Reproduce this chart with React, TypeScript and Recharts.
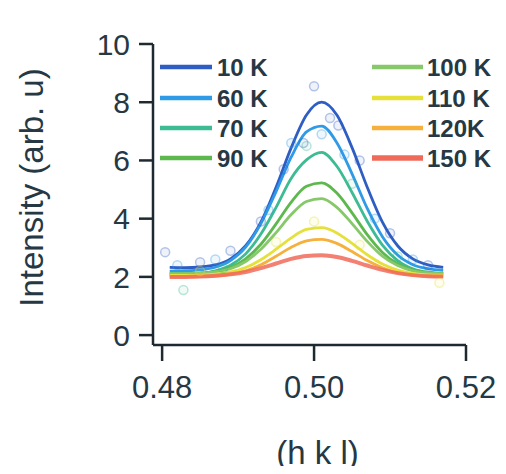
import React from 'react';
import { ComposedChart, Line, Scatter, XAxis, YAxis, Legend } from 'recharts';

// momentum transfer (h k l) sampled along the fitted curves
const hkl = [0.481, 0.483, 0.485, 0.487, 0.489, 0.491, 0.493, 0.495, 0.497, 0.499, 0.501, 0.503, 0.505, 0.507, 0.509, 0.511, 0.513, 0.515, 0.517];

// fitted intensity curves (arb. u)
const fit10K = [2.33, 2.32, 2.34, 2.41, 2.62, 3.07, 3.88, 5.08, 6.44, 7.56, 8.00, 7.56, 6.44, 5.08, 3.88, 3.07, 2.62, 2.41, 2.33];
const fit60K = [2.20, 2.21, 2.24, 2.33, 2.56, 3.02, 3.83, 4.93, 6.12, 6.98, 7.18, 6.61, 5.54, 4.35, 3.38, 2.75, 2.42, 2.28, 2.22];
const fit70K = [2.10, 2.11, 2.13, 2.21, 2.40, 2.79, 3.47, 4.39, 5.39, 6.02, 6.28, 5.80, 4.90, 3.91, 3.09, 2.56, 2.28, 2.16, 2.12];
const fit90K = [2.10, 2.11, 2.13, 2.18, 2.32, 2.62, 3.12, 3.82, 4.57, 5.11, 5.23, 4.88, 4.20, 3.45, 2.84, 2.45, 2.24, 2.15, 2.11];
const fit100K = [2.10, 2.11, 2.12, 2.17, 2.28, 2.53, 2.95, 3.52, 4.14, 4.59, 4.69, 4.39, 3.83, 3.22, 2.71, 2.39, 2.21, 2.14, 2.11];
const fit110K = [2.05, 2.05, 2.06, 2.09, 2.17, 2.32, 2.59, 2.95, 3.34, 3.63, 3.69, 3.51, 3.15, 2.76, 2.44, 2.23, 2.12, 2.07, 2.06];
const fit120K = [2.00, 2.00, 2.01, 2.03, 2.09, 2.21, 2.42, 2.71, 3.02, 3.24, 3.29, 3.15, 2.87, 2.56, 2.31, 2.14, 2.06, 2.02, 2.01];
const fit150K = [2.00, 2.00, 2.01, 2.04, 2.09, 2.17, 2.30, 2.46, 2.62, 2.72, 2.74, 2.68, 2.55, 2.39, 2.24, 2.13, 2.06, 2.02, 2.01];

// measured points (faint open circles)
const pts10K: [number, number][] = [[0.4804, 2.85], [0.4850, 2.5], [0.4890, 2.9], [0.4930, 3.9], [0.4960, 5.7], [0.4986, 6.6], [0.5000, 8.55], [0.5021, 7.46], [0.5032, 7.2], [0.5060, 6.0], [0.5100, 3.5], [0.5150, 2.4]];
const pts60K: [number, number][] = [[0.4820, 2.4], [0.4870, 2.6], [0.4940, 4.3], [0.4970, 6.6], [0.5010, 6.9], [0.5040, 6.2], [0.5080, 4.0], [0.5130, 2.6]];
const pts70K: [number, number][] = [[0.4828, 1.55], [0.4880, 2.3], [0.4990, 6.5], [0.5050, 5.2], [0.5110, 2.7]];
const pts110K: [number, number][] = [[0.4850, 2.2], [0.4950, 3.2], [0.5000, 3.9], [0.5060, 3.1], [0.5165, 1.8]];

const temps = ['10 K', '60 K', '70 K', '90 K', '100 K', '110 K', '120K', '150 K'];
const colors = ['#2e5ec4', '#2f9ae6', '#3dbb93', '#5db84d', '#86c86a', '#e6e03a', '#f6b03c', '#f06a5a'];
const fits = [fit10K, fit60K, fit70K, fit90K, fit100K, fit110K, fit120K, fit150K];
const pointSets: { idx: number; pts: [number, number][] }[] = [
  { idx: 0, pts: pts10K },
  { idx: 1, pts: pts60K },
  { idx: 2, pts: pts70K },
  { idx: 5, pts: pts110K },
];

const yTicks = [0, 2, 4, 6, 8, 10];
const xTicks = [0.48, 0.50, 0.52];

const textColor = '#263843';
const axisColor = '#1e2a30';
const font = 'Liberation Sans, Arial, sans-serif';

const LegendBox = () => {
  const rowsY = [59, 90, 120, 150];
  return (
    <svg width={490} height={180} style={{ overflow: 'visible' }}>
      {temps.map((t, i) => {
        const col = i < 4 ? 0 : 1;
        const row = i % 4;
        const x0 = col === 0 ? 152 : 364;
        const x1 = col === 0 ? 204 : 415;
        const tx = col === 0 ? 209 : 419;
        const y = rowsY[row];
        return (
          <g key={t}>
            <line x1={x0} x2={x1} y1={y} y2={y} stroke={colors[i]} strokeWidth={i === 7 ? 5.5 : 4.5} />
            <text x={tx} y={y} dy="0.36em" fontSize={24} fontWeight="bold" fill={textColor} fontFamily={font}>{t}</text>
          </g>
        );
      })}
    </svg>
  );
};

export default function App() {
  const lineData = fits.map((f) => hkl.map((x, k) => ({ x, y: f[k] })));
  return (
    <div style={{ width: 490, height: 458, background: '#fff', overflow: 'visible' }}>
      <ComposedChart width={490} height={464} margin={{ top: 36, right: 32, bottom: 0, left: 0 }}>
        <XAxis
          type="number"
          dataKey="x"
          domain={[0.4788, 0.52]}
          ticks={xTicks}
          allowDataOverflow
          height={127}
          tickSize={16}
          tickMargin={15}
          tickFormatter={(v: number) => v.toFixed(2)}
          tick={{ fontSize: 31, fill: textColor, fontFamily: font }}
          axisLine={{ stroke: axisColor, strokeWidth: 2.5 }}
          tickLine={{ stroke: axisColor, strokeWidth: 2.5 }}
          label={{
            content: (p: any) => {
              const vb = p.viewBox || {};
              return (
                <text x={vb.x + vb.width / 2 + 8} y={vb.y + 119} textAnchor="middle" fontSize={33} fill={textColor} fontFamily={font}>(h k l)</text>
              );
            },
          }}
        />
        <YAxis
          type="number"
          dataKey="y"
          domain={[-0.34, 10]}
          ticks={yTicks}
          allowDataOverflow
          width={145}
          tickSize={14}
          tickMargin={9}
          tick={{ fontSize: 30, fill: textColor, fontFamily: font }}
          axisLine={{ stroke: axisColor, strokeWidth: 2.5 }}
          tickLine={{ stroke: axisColor, strokeWidth: 2.5 }}
          label={{
            content: (p: any) => {
              const vb = p.viewBox || {};
              const cx = 23;
              const cy = vb.y + vb.height / 2 - 7;
              return (
                <text x={cx} y={cy} textAnchor="middle" dominantBaseline="central" transform={`rotate(-90 ${cx} ${cy})`} fontSize={33} fill={textColor} fontFamily={font}>Intensity (arb. u)</text>
              );
            },
          }}
        />
        {pointSets.map((s) => (
          <Scatter
            key={'s' + s.idx}
            data={s.pts.map(([x, y]) => ({ x, y }))}
            dataKey="y"
            isAnimationActive={false}
            legendType="none"
            shape={(p: any) => (
              <circle cx={p.cx} cy={p.cy} r={4.5} fill={colors[s.idx]} fillOpacity={0.08} stroke={colors[s.idx]} strokeOpacity={0.35} strokeWidth={1.5} />
            )}
          />
        ))}
        {lineData.map((d, i) => (
          <Line
            key={temps[i]}
            data={d}
            dataKey="y"
            name={temps[i]}
            type="monotone"
            stroke={colors[i]}
            strokeWidth={i === 7 ? 4 : 2.8}
            strokeOpacity={i === 7 ? 0.85 : 1}
            dot={false}
            activeDot={false}
            isAnimationActive={false}
          />
        ))}
        <Legend
          layout="horizontal"
          verticalAlign="middle"
          align="center"
          wrapperStyle={{ position: 'absolute', top: 0, left: 0, width: 490, height: 180 }}
          content={() => <LegendBox />}
        />
      </ComposedChart>
    </div>
  );
}
